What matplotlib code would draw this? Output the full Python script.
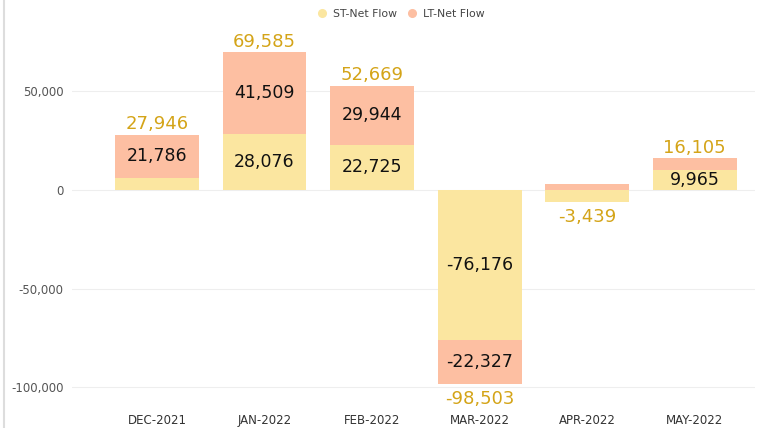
import numpy as np
import matplotlib
matplotlib.use("Agg")
from matplotlib import pyplot as plt
from matplotlib.lines import Line2D

months = ["DEC-2021", "JAN-2022", "FEB-2022", "MAR-2022", "APR-2022", "MAY-2022"]
st_flow = [6160, 28076, 22725, -76176, -6300, 9965]
lt_flow = [21786, 41509, 29944, -22327, 2861, 6140]
totals = [27946, 69585, 52669, -98503, -3439, 16105]

c_st = "#FBE6A0"
c_lt = "#FDBFA2"
c_total = "#D4A418"

plt.rcParams["font.family"] = ["DejaVu Sans"]

fig = plt.figure(figsize=(7.63, 4.28), dpi=100)
ax = fig.add_axes([72 / 763, 21 / 428, 683 / 763, 385 / 428])

x = np.arange(len(months))
st = np.array(st_flow)
lt = np.array(lt_flow)
w = 0.78

# stacking: LT sits on top of ST when same sign, otherwise from zero
lt_base = np.where(np.sign(lt) == np.sign(st), st, 0)
ax.bar(x, st, w, color=c_st, zorder=2)
ax.bar(x, lt, w, bottom=lt_base, color=c_lt, zorder=2)

# segment labels
for i in range(len(months)):
    if abs(st[i]) > 8000:
        ax.text(x[i], st[i] / 2, f"{st[i]:,}", ha="center", va="center",
                fontsize=12.5, color="#111111", zorder=3)
    if abs(lt[i]) > 8000:
        ax.text(x[i], lt_base[i] + lt[i] / 2, f"{lt[i]:,}", ha="center", va="center",
                fontsize=12.5, color="#111111", zorder=3)

# total labels
for i, t in enumerate(totals):
    top = max(0, st[i]) + max(0, lt[i])
    bot = min(0, st[i]) + min(0, lt[i])
    if t >= 0:
        ax.annotate(f"{t:,}", (x[i], top), xytext=(0, 1), textcoords="offset points",
                    ha="center", va="bottom", fontsize=13, color=c_total)
    else:
        ax.annotate(f"{t:,}", (x[i], bot), xytext=(0, -4), textcoords="offset points",
                    ha="center", va="top", fontsize=13, color=c_total)

ax.set_xlim(-0.79, 5.56)
ax.set_ylim(-110000, 85000)
ax.set_yticks([-100000, -50000, 0, 50000])
ax.yaxis.set_major_formatter(matplotlib.ticker.FuncFormatter(lambda v, p: f"{int(v):,}"))
ax.set_xticks(x)
ax.set_xticklabels(months)
ax.tick_params(axis="y", length=0, pad=6, labelsize=8.5, labelcolor="#555555")
ax.tick_params(axis="x", length=0, pad=5, labelsize=8.5, labelcolor="#333333")
ax.grid(axis="y", color="#EEEEEE", linewidth=0.8, zorder=0)
for s in ax.spines.values():
    s.set_visible(False)

handles = [Line2D([], [], marker="o", linestyle="", markersize=5.5, color=c_st),
           Line2D([], [], marker="o", linestyle="", markersize=5.5, color=c_lt)]
fig.legend(handles, ["ST-Net Flow", "LT-Net Flow"], loc="center", bbox_to_anchor=(0.522, 0.968),
           ncol=2, frameon=False, fontsize=7.8, handletextpad=0.0, columnspacing=0.4,
           labelcolor="#444444")

# panel border on the left
fig.add_artist(Line2D([4 / 763, 4 / 763], [0, 1], color="#DDDDDD", linewidth=1.5))

fig.savefig("out.png", dpi=100)
